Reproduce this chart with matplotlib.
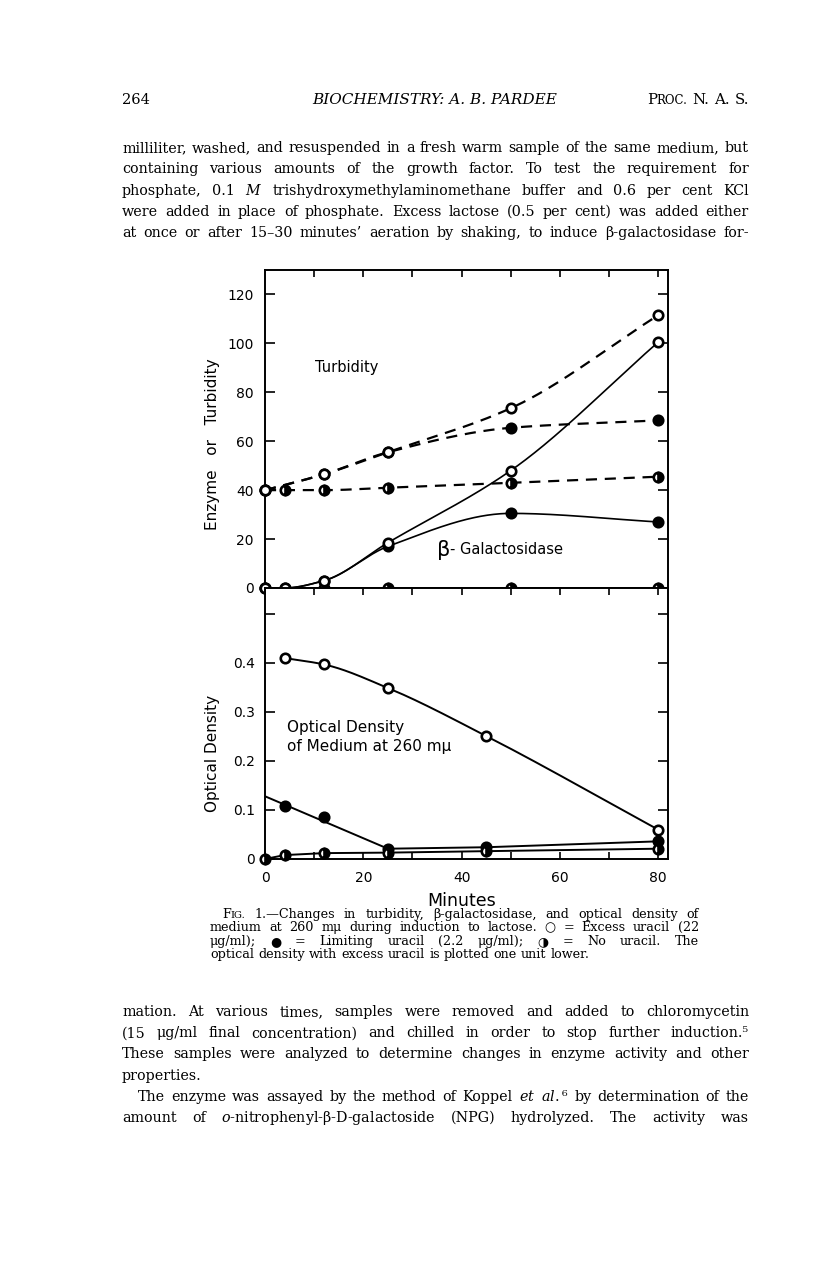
import matplotlib
matplotlib.use("Agg")
import matplotlib.pyplot as plt
import numpy as np

# ---- data (minutes vs. value) ----
turb_x = [0, 12, 25, 50, 80]
turb_excess = [40, 46.5, 55.5, 73.5, 111.5]
turb_limit = [40, 46.5, 55.5, 65.5, 68.5]
turb_x_none = [0, 4, 12, 25, 50, 80]
turb_none = [40, 40, 40, 41, 43, 45.5]

enz_x = [0, 4, 12, 25, 50, 80]
enz_excess = [0, 0, 3, 18.5, 48, 100.5]
enz_limit = [0, 0, 3, 17, 30.5, 27]
enz_x_none = [0, 12, 25, 50, 80]
enz_none = [0, 0, 0, 0, 0]

od_x = [4, 12, 25, 45, 80]
od_excess = [0.41, 0.397, 0.349, 0.251, 0.06]
od_limit = [0.108, 0.085, 0.021, 0.024, 0.036]
od_limit_line_x = [0, 25, 45, 80]
od_limit_line = [0.128, 0.021, 0.024, 0.036]
od_x_none = [0, 4, 12, 25, 45, 80]
od_none = [0, 0.008, 0.012, 0.013, 0.016, 0.021]

top_yticks = [0, 20, 40, 60, 80, 100, 120]
od_yticks = [0, 0.1, 0.2, 0.3, 0.4, 0.5]
od_ylabels = ["0", "0.1", "0.2", "0.3", "0.4", ""]

# ---- page text ----
header = ["264", "BIOCHEMISTRY: A. B. PARDEE", "PROC. N. A. S."]
para_top = [
    "milliliter, washed, and resuspended in a fresh warm sample of the same medium, but",
    "containing various amounts of the growth factor.  To test the requirement for",
    r"phosphate, 0.1 $\it{M}$ trishydroxymethylaminomethane buffer and 0.6 per cent KCl",
    "were added in place of phosphate.  Excess lactose (0.5 per cent) was added either",
    "at once or after 15–30 minutes’ aeration by shaking, to induce β-galactosidase for-",
]
caption = [
    "FIG. 1.—Changes in turbidity, β-galactosidase, and optical density of",
    "medium at 260 mμ during induction to lactose.  ○ = Excess uracil (22",
    "μg/ml);  ● = Limiting uracil (2.2 μg/ml);  ◑ = No uracil.  The",
    "optical density with excess uracil is plotted one unit lower.",
]
para_bot = [
    "mation.  At various times, samples were removed and added to chloromycetin",
    "(15 μg/ml final concentration) and chilled in order to stop further induction.⁵",
    "These samples were analyzed to determine changes in enzyme activity and other",
    "properties.",
    r"The enzyme was assayed by the method of Koppel $\it{et}$ $\it{al.}$⁶ by determination of the",
    r"amount of $\it{o}$-nitrophenyl-β-D-galactoside (NPG) hydrolyzed.  The activity was",
]

SMALLCAPS = {"FIG.": [("F", 1.0), ("IG.", 0.78)], "PROC.": [("P", 1.0), ("ROC.", 0.78)]}
SERIF = ["DejaVu Serif", "DejaVu Sans"]
BODY = 10.3
CAP = 9.2

plt.rcParams["font.family"] = "DejaVu Sans"
plt.rcParams["mathtext.fontset"] = "dejavuserif"

W, H = 816, 1267
fig = plt.figure(figsize=(W / 100, H / 100), dpi=100)
R = fig.canvas.get_renderer()


def fpos(x, y):
    return x / W, 1 - y / H


def set_line(line, x0, y, size, x1=None, right=None):
    pieces = []
    for w in line.split():
        objs = []
        for s, k in SMALLCAPS.get(w, [(w, 1.0)]):
            t = fig.text(0.5, 0.5, s, fontsize=size * k, family=SERIF,
                         ha="left", va="baseline")
            objs.append((t, t.get_window_extent(R).width))
        pieces.append(objs)
    total = sum(w for p in pieces for _, w in p)
    space = size * 1.389 * 0.32
    if x1 is None or len(pieces) < 2:
        gap = space
    else:
        gap = (x1 - x0 - total) / (len(pieces) - 1)
    if right is not None:
        x0 = right - total - gap * (len(pieces) - 1)
    x = x0
    for p in pieces:
        for t, w in p:
            t.set_position(fpos(x, y))
            x += w
        x += gap


def smooth(x, y, n=300):
    # monotone cubic through the read points, only for drawing the curve
    x = np.asarray(x, float)
    y = np.asarray(y, float)
    h = np.diff(x)
    d = np.diff(y) / h
    m = np.zeros_like(y)
    m[0], m[-1] = d[0], d[-1]
    for k in range(1, len(x) - 1):
        if d[k - 1] * d[k] > 0:
            w1, w2 = 2 * h[k] + h[k - 1], h[k] + 2 * h[k - 1]
            m[k] = (w1 + w2) / (w1 / d[k - 1] + w2 / d[k])
    xs = np.linspace(x[0], x[-1], n)
    i = np.clip(np.searchsorted(x, xs) - 1, 0, len(h) - 1)
    t = (xs - x[i]) / h[i]
    ys = ((2 * t**3 - 3 * t**2 + 1) * y[i] + (t**3 - 2 * t**2 + t) * h[i] * m[i]
          + (-2 * t**3 + 3 * t**2) * y[i + 1] + (t**3 - t**2) * h[i] * m[i + 1])
    return xs, ys


DASH = (0, (5, 3.5))
MK = dict(ms=6.8, mew=1.9, mec="black", clip_on=False, linestyle="none")


def marks(ax, x, y, kind):
    if kind == "open":
        ax.plot(x, y, "o", mfc="white", zorder=5, **MK)
    elif kind == "filled":
        ax.plot(x, y, "o", mfc="black", zorder=4, **MK)
    else:
        ax.plot(x, y, "o", mfc="black", fillstyle="right", markerfacecoloralt="white",
                zorder=4, **MK)


# ---- header and text ----
fig.text(*fpos(122, 104), header[0], fontsize=10.5, family=SERIF, va="baseline")
fig.text(*fpos(435, 104), header[1], fontsize=11, family=SERIF, style="italic",
         ha="center", va="baseline")
set_line(header[2], 0, 104, 10.8, right=749)

for i, line in enumerate(para_top):
    set_line(line, 122, 152 + i * 21.3, BODY, 749)

for i, line in enumerate(caption):
    x0 = 222 if i == 0 else 210
    set_line(line, x0, 918 + i * 13.4, CAP, 699 if i < 3 else None)

for i, line in enumerate(para_bot):
    x0 = 138 if i == 4 else 122
    set_line(line, x0, 1016 + i * 21.2, BODY, None if i == 3 else 749)

# ---- chart ----
ax1 = fig.add_axes([265 / W, 1 - 588 / H, 403 / W, 318 / H])
ax2 = fig.add_axes([265 / W, 1 - 859 / H, 403 / W, 271 / H])
for ax in (ax1, ax2):
    ax.set_xlim(0, 82)
    for sp in ax.spines.values():
        sp.set_linewidth(1.4)

ax1.set_ylim(0, 130)
ax1.set_yticks(top_yticks)
ax1.set_xticks([20, 40, 60, 80])
ax1.set_xticks([10, 30, 50, 70], minor=True)
ax1.tick_params(axis="y", direction="in", left=True, right=True, length=7, width=1.2,
                labelsize=10, pad=8)
ax1.tick_params(axis="x", which="both", direction="in", top=True, bottom=False,
                length=5, width=1.2, labelsize=10, pad=1)

ax2.set_ylim(0, 0.553)
ax2.set_yticks(od_yticks)
ax2.set_yticklabels(od_ylabels)
ax2.set_xticks([0, 20, 40, 60, 80])
ax2.set_xticks([10, 30, 50, 70], minor=True)
ax2.tick_params(axis="y", direction="in", left=True, right=True, length=7, width=1.2,
                labelsize=10, pad=7)
ax2.tick_params(axis="x", which="both", direction="in", top=True, bottom=True,
                length=5, width=1.2, labelsize=10, pad=9)

# turbidity (dashed)
ax1.plot(*smooth(turb_x, turb_limit), color="black", lw=1.6, ls=DASH)
ax1.plot(*smooth(turb_x, turb_excess), color="black", lw=1.6, ls=DASH)
ax1.plot(*smooth(turb_x_none, turb_none), color="black", lw=1.6, ls=DASH)
marks(ax1, turb_x, turb_limit, "filled")
marks(ax1, turb_x, turb_excess, "open")
marks(ax1, turb_x_none, turb_none, "half")

# enzyme (solid)
ax1.plot(*smooth(enz_x, enz_excess), color="black", lw=1.2, clip_on=False)
ax1.plot(*smooth(enz_x, enz_limit), color="black", lw=1.2, clip_on=False)
ax1.plot(enz_x_none, enz_none, color="black", lw=1.2, clip_on=False)
marks(ax1, enz_x, enz_limit, "filled")
marks(ax1, enz_x, enz_excess, "open")
marks(ax1, enz_x_none, enz_none, "half")

# optical density
ax2.plot(*smooth(od_x, od_excess), color="black", lw=1.4)
ax2.plot(od_limit_line_x, od_limit_line, color="black", lw=1.4)
ax2.plot(od_x_none, od_none, color="black", lw=1.4, clip_on=False)
marks(ax2, od_x, od_excess, "open")
marks(ax2, od_x, od_limit, "filled")
marks(ax2, od_x_none, od_none, "half")

ax1.text(10.2, 90, "Turbidity", fontsize=10.5, va="center")
ax1.text(35, 15.5, "β", fontsize=15, va="center")
ax1.text(37.6, 15.8, "- Galactosidase", fontsize=10.5, va="center")
ax2.text(4.5, 0.269, "Optical Density", fontsize=11, va="center")
ax2.text(4.5, 0.229, "of Medium at 260 mμ", fontsize=11, va="center")

fig.text(*fpos(212, 444), "Enzyme   or   Turbidity", rotation=90, fontsize=11,
         ha="center", va="center")
fig.text(*fpos(212, 753), "Optical Density", rotation=90, fontsize=11,
         ha="center", va="center")
fig.text(*fpos(462, 901), "Minutes", fontsize=12.5, ha="center", va="center")

fig.savefig("out.png", dpi=100)
